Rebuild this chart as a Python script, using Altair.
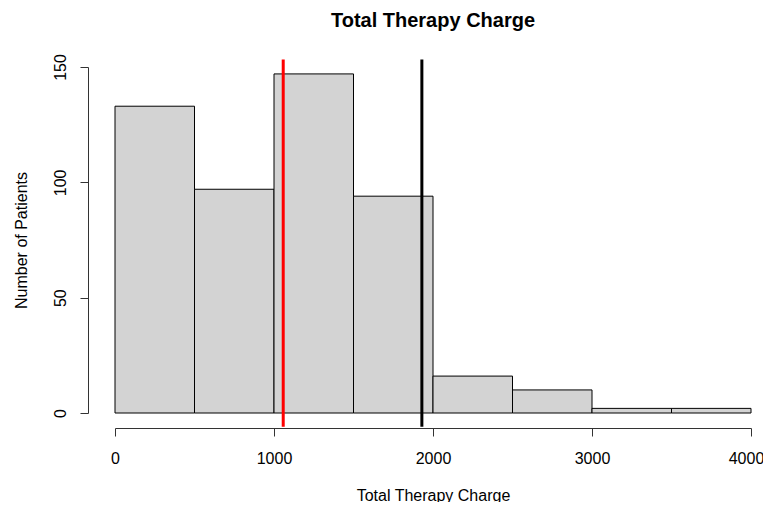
import altair as alt
import pandas as pd

# Histogram data
bin_start = [0, 500, 1000, 1500, 2000, 2500, 3000, 3500]
bin_end = [500, 1000, 1500, 2000, 2500, 3000, 3500, 4000]
counts = [133, 97, 147, 94, 16, 10, 2, 2]

# Vertical reference lines (red and black)
ref_values = [1058, 1930]
ref_colors = ["#FF0000", "#000000"]
line_span = [-6.0, 153.3]   # lines span the whole plot region (R abline)

x_ticks = [0, 1000, 2000, 3000, 4000]
y_ticks = [0, 50, 100, 150]

FONT = "Liberation Sans"
AX = "#333333"

bars = pd.DataFrame({"start": bin_start, "end": bin_end, "count": counts,
                     "base": [0] * len(counts)})
lines = pd.DataFrame({"value": ref_values, "color": ref_colors,
                      "y0": [line_span[0]] * 2, "y1": [line_span[1]] * 2})

xscale = alt.Scale(domain=[0, 4000], nice=False, zero=False)
yscale = alt.Scale(domain=[0, 150], nice=False, zero=False)

x_axis = alt.Axis(values=x_ticks, title="Total Therapy Charge", offset=15,
                  tickSize=8, tickColor=AX, domainColor=AX, grid=False,
                  labelFont=FONT, labelFontSize=16, labelColor="#000000",
                  labelPadding=14, format="d", labelFlush=False,
                  labelOffset={"condition": {"test": "datum.value == 4000", "value": -5},
                               "value": 0},
                  titleFont=FONT, titleFontSize=16, titleFontWeight="normal",
                  titleColor="#000000", titlePadding=21)
y_axis = alt.Axis(values=y_ticks, title="Number of Patients", offset=27,
                  tickSize=8, tickColor=AX, domainColor=AX, grid=False,
                  labelFont=FONT, labelFontSize=16, labelColor="#000000",
                  labelAngle=270, labelAlign="center", labelBaseline="bottom",
                  labelPadding=12, labelFlush=False,
                  titleFont=FONT, titleFontSize=16, titleFontWeight="normal",
                  titleColor="#000000", titlePadding=23)

bar_layer = alt.Chart(bars).mark_rect(
    fill="#D3D3D3", stroke="#000000", strokeWidth=1
).encode(
    x=alt.X("start:Q", scale=xscale, axis=x_axis),
    x2="end:Q",
    y=alt.Y("count:Q", scale=yscale, axis=y_axis),
    y2="base:Q",
)

rule_layer = alt.Chart(lines).mark_rule(strokeWidth=3, clip=False).encode(
    x=alt.X("value:Q", scale=xscale),
    y=alt.Y("y0:Q", scale=yscale),
    y2="y1:Q",
    color=alt.Color("color:N", scale=None),
)

chart = alt.layer(bar_layer, rule_layer).properties(
    width=636,
    height=346,
    background="white",
    title=alt.TitleParams("Total Therapy Charge", font=FONT, fontSize=20,
                          fontWeight="bold", color="#000000", anchor="middle",
                          frame="group", offset=23),
    padding={"left": 107, "top": 59, "right": 12, "bottom": 89},
    autosize=alt.AutoSizeParams(type="none"),
).configure_view(strokeWidth=0, stroke="transparent")

chart.save("out.html", embed_options={"renderer": "svg", "actions": False})
